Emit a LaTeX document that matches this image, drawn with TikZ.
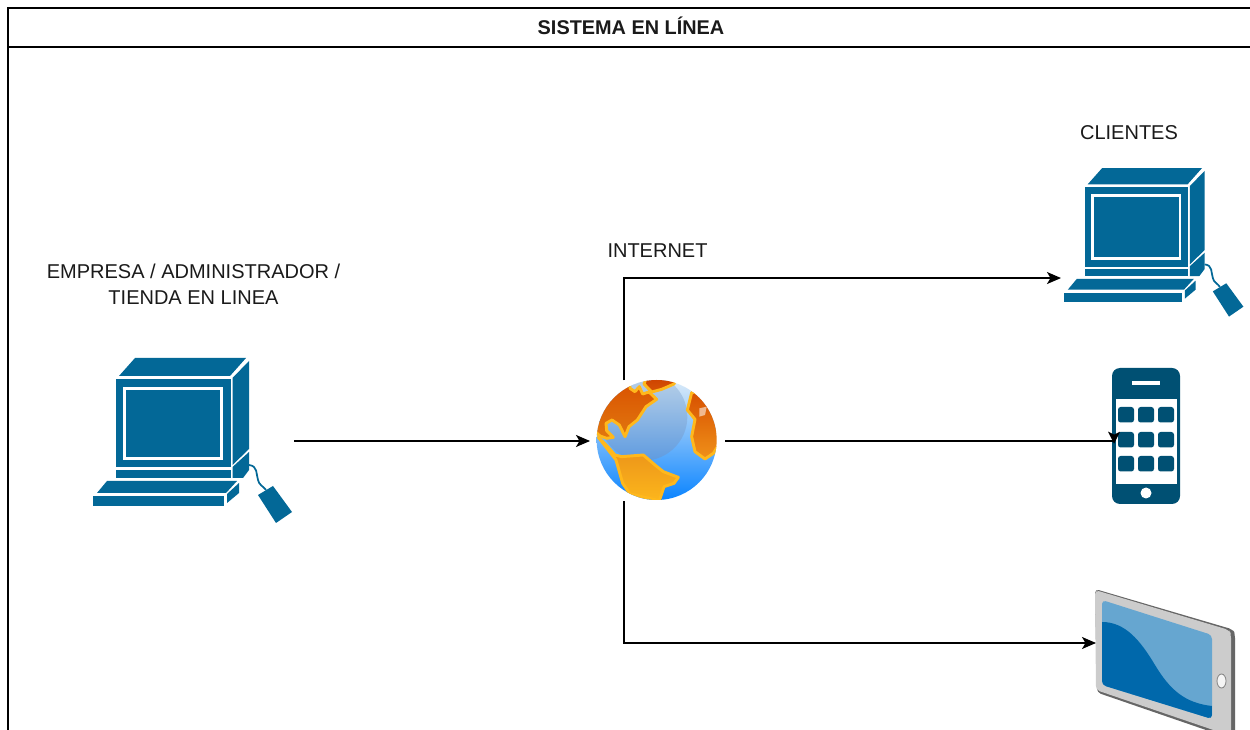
\documentclass[tikz,border=0pt]{standalone}
\usepackage{fontspec}
\setmainfont{Liberation Sans}
\usetikzlibrary{arrows.meta,calc}
\definecolor{pcblue}{HTML}{036897}
\definecolor{phoneblue}{HTML}{005073}
\definecolor{tabgray}{HTML}{CCCCCC}
\definecolor{tabedge}{HTML}{666666}
\definecolor{scrlight}{HTML}{66A6D0}
\definecolor{scrdark}{HTML}{0068AB}
\definecolor{landline}{HTML}{FFB81C}
\definecolor{txt}{HTML}{1A1A1A}
\definecolor{seatop}{HTML}{DCEBF8}
\definecolor{seabot}{HTML}{0A84FF}
\definecolor{shadetop}{HTML}{BDD3E8}
\definecolor{shadebot}{HTML}{5E9BE0}
\definecolor{nat}{HTML}{D95000}
\definecolor{nab}{HTML}{E1780F}
\definecolor{sat}{HTML}{E88C19}
\definecolor{sab}{HTML}{FCB61C}
\definecolor{art}{HTML}{CD4100}
\definecolor{arb}{HTML}{D75505}
\definecolor{aft}{HTML}{D75000}
\definecolor{afb}{HTML}{F09119}
\tikzset{
  iconbox/.style={inner sep=0pt,outer sep=0pt,draw=none,fill=none},
  label/.style={inner sep=0pt,font=\fontsize{15pt}{19.5pt}\selectfont,text=txt,align=center},
  titlelabel/.style={label,font=\fontsize{14.9pt}{19.5pt}\selectfont\bfseries},
  frameline/.style={draw=black,line width=0.85pt},
  link/.style={draw=black,line width=1.05pt,-{Stealth[length=10.5pt,width=9pt,inset=2.6pt]}},
  land/.style={draw=landline,line width=2.2pt,line join=round},
}
\newcommand{\pcicon}[3]{%
\begin{scope}[shift={(#1,#2)},scale=#3]
  \fill[pcblue] (36,39) rectangle (150.5,127.5);
  \fill[white] (43,47) rectangle (143,120);
  \fill[pcblue] (46,50) rectangle (140,117);
  \fill[pcblue] (39,36) -- (55,18) -- (166,18) -- (150,36) -- cycle;
  \fill[pcblue] (152.5,38) -- (169,21) -- (169,109) -- (152.5,125) -- cycle;
  \fill[pcblue] (36,130) rectangle (150.5,138);
  \fill[pcblue] (152.5,127) -- (169,112) -- (169,130) -- (163,138) -- (152.5,138) -- cycle;
  \fill[pcblue] (17,153) -- (27,141) -- (157,141) -- (146,153) -- cycle;
  \fill[pcblue] (13,156.5) rectangle (144,166.5);
  \fill[pcblue] (147,154) -- (159,143) -- (159,153) -- (147,163) -- cycle;
  \fill[pcblue] (178,155) -- (193,146) -- (212,172) -- (196,183) -- cycle;
  \draw[pcblue,line width=1.3pt] (169,125) .. controls (178,126) and (176,134) .. (178,140)
    .. controls (179,145) and (183,146) .. (186,150);
\end{scope}}
\begin{document}
\begin{tikzpicture}[x=0.75pt,y=-0.75pt]
\useasboundingbox (0,0) rectangle (1250,730);
\clip (0,0) rectangle (1250,730);
\fill[white] (0,0) rectangle (1250,730);

% frame
\draw[frameline] (8,745) -- (8,8) -- (1262,8);
\draw[frameline] (8,47) -- (1262,47);
\node[titlelabel] (title) at (631,26) {SISTEMA EN LÍNEA};

% computers
\pcicon{80}{340}{1}
\pcicon{1052.6}{151.9}{0.9}
\node[iconbox,minimum width=150.75pt,minimum height=124.5pt] (admin) at (193.5,441) {};
\node[iconbox,minimum width=138.75pt,minimum height=111.75pt] (client) at (1153.5,241.5) {};

% globe
\begin{scope}[shift={(580,360)},scale=1/3]
  \begin{scope}
    \clip (230,240) circle (180);
    \shade[top color=seatop,bottom color=seabot] (50,60) rectangle (410,420);
    \shade[top color=shadetop,bottom color=shadebot] (190,170) circle (132);
    \path[land,top color=nat,bottom color=nab]
      (60,228) -- (30,200) -- (50,110) -- (150,55) -- (150,85) -- (165,95) -- (178,80) -- (188,102) -- (207,96)
      -- (230,118) -- (198,140) -- (172,180) -- (147,200) -- (135,230) -- (118,195) -- (96,180) -- (78,190) -- (80,212) -- (100,232) -- (80,235) -- cycle;
    \path[land,top color=sat,bottom color=sab]
      (55,232) -- (85,262) -- (105,285) -- (125,290) -- (190,285) -- (225,315) -- (250,335) -- (295,352) -- (282,370) -- (252,380) -- (238,422)
      -- (150,402) -- (128,370) -- (108,300) -- cycle;
    \path[land,top color=art,bottom color=arb]
      (200,50) -- (290,50) -- (282,72) -- (245,88) -- (215,96) -- (192,72) -- cycle;
    \path[land,top color=aft,bottom color=afb]
      (335,98) -- (322,150) -- (345,178) -- (335,230) -- (345,275) -- (375,297) -- (400,280) -- (425,240) -- (410,150) -- (365,95) -- cycle;
    \fill[white,opacity=.55] (358,145) -- (380,140) -- (375,165) -- (358,170) -- cycle;
  \end{scope}
\end{scope}
\node[iconbox,minimum width=101.25pt,minimum height=90.75pt] (globe) at (657.5,441) {};

% phone
\fill[phoneblue,rounded corners=6pt] (1112,368) rectangle (1180,504);
\fill[white] (1116,399) rectangle (1177,484);
\draw[white,line width=2.4pt] (1132,383) -- (1160,383);
\foreach \cx in {1118,1138,1158}
  \foreach \cy in {407,432,456}
    \fill[phoneblue,rounded corners=2pt] (\cx,\cy) rectangle +(16,15.5);
\fill[white] (1146,493) circle (5.5);
\node[iconbox,minimum width=50.25pt,minimum height=102pt] (phone) at (1146.5,436) {};

% tablet
\fill[tabedge,rounded corners=3pt] (1095,589) -- (1233,629.5) -- (1235,634) -- (1235,740) -- (1097,692.5) -- cycle;
\fill[tabgray,rounded corners=3pt] (1095,590) -- (1229,630) -- (1231,634) -- (1231,736) -- (1096,690) -- cycle;
\fill[scrlight,rounded corners=3pt] (1102,600) -- (1212,635) -- (1212,719) -- (1102,685) -- cycle;
\begin{scope}
  \clip[rounded corners=3pt] (1102,600) -- (1212,635) -- (1212,719) -- (1102,685) -- cycle;
  \fill[scrdark] (1102,622) .. controls (1125,622) and (1140,640) .. (1155,665)
    .. controls (1170,690) and (1185,703) .. (1212,706) -- (1212,725) -- (1102,690) -- cycle;
\end{scope}
\draw[gray,fill=white!92!gray,line width=0.6pt] (1221.5,681) ellipse (4.5 and 7);
\node[iconbox,minimum width=104.25pt,minimum height=82.5pt] (tablet) at (1165.5,643) {};

% labels
\node[label] (lclient) at (1129,133) {CLIENTES};
\node[label] (linternet) at (657.5,251) {INTERNET};
\node[label] (ladmin) at (193.5,284) {EMPRESA / ADMINISTRADOR /\\TIENDA EN LINEA};

% connectors
\draw[link] (admin.east) -- (globe.west);
\draw[link] ([xshift=-25.1pt]globe.north) |- ([yshift=-27.4pt]client.west);
\draw[link] ([xshift=-25.1pt]globe.south) |- (tablet.west);
\draw[draw=black,line width=1.05pt] (globe.east) -- (phone.west |- globe.east);
\fill[black] ([shift={(0.8pt,-2pt)}]phone.west |- globe.east) -- +(4.5pt,9pt) -- +(0pt,6.8pt) -- +(-4.5pt,9pt) -- cycle;
\end{tikzpicture}
\end{document}
